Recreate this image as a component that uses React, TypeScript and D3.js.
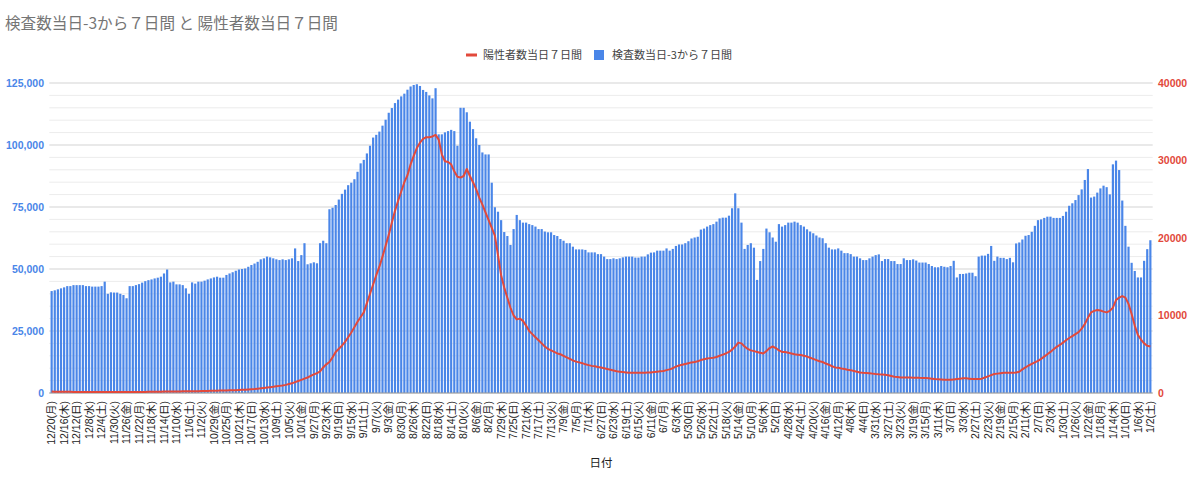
import React from 'react';
import * as d3 from 'd3';

const title = '検査数当日-3から７日間 と 陽性者数当日７日間';
const seriesLineName = '陽性者数当日７日間';
const seriesBarName = '検査数当日-3から７日間';
const xAxisTitle = '日付';

const tickLabels = [
  '12/20(月)', '12/16(木)', '12/12(日)', '12/8(水)', '12/4(土)', '11/30(火)', '11/26(金)',
  '11/22(月)', '11/18(木)', '11/14(日)', '11/10(水)', '11/6(土)', '11/2(火)', '10/29(金)',
  '10/25(月)', '10/21(木)', '10/17(日)', '10/13(水)', '10/9(土)', '10/5(火)', '10/1(金)',
  '9/27(月)', '9/23(木)', '9/19(日)', '9/15(水)', '9/11(土)', '9/7(火)', '9/3(金)',
  '8/30(月)', '8/26(木)', '8/22(日)', '8/18(水)', '8/14(土)', '8/10(火)', '8/6(金)',
  '8/2(月)', '7/29(木)', '7/25(日)', '7/21(水)', '7/17(土)', '7/13(火)', '7/9(金)',
  '7/5(月)', '7/1(木)', '6/27(日)', '6/23(水)', '6/19(土)', '6/15(火)', '6/11(金)',
  '6/7(月)', '6/3(木)', '5/30(日)', '5/26(水)', '5/22(土)', '5/18(火)', '5/14(金)',
  '5/10(月)', '5/6(木)', '5/2(日)', '4/28(水)', '4/24(土)', '4/20(火)', '4/16(金)',
  '4/12(月)', '4/8(木)', '4/4(日)', '3/31(水)', '3/27(土)', '3/23(火)', '3/19(金)',
  '3/15(月)', '3/11(木)', '3/7(日)', '3/3(水)', '2/27(土)', '2/23(火)', '2/19(金)',
  '2/15(月)', '2/11(木)', '2/7(日)', '2/3(水)', '1/30(土)', '1/26(火)', '1/22(金)',
  '1/18(月)', '1/14(木)', '1/10(日)', '1/6(水)', '1/2(土)',
];
const tickEvery = 4;

// 検査数当日-3から７日間 (daily, 12/20 -> 1/2)
const tests = [
  41100, 41400, 41800, 42200, 42600, 43100, 43100, 43500, 43500, 43500,
  43500, 43100, 43100, 42900, 42900, 42900, 43100, 44900, 40000, 40600,
  40500, 40500, 40000, 39500, 38200, 43100, 43100, 43500, 43900, 44500,
  45100, 45500, 45800, 46200, 46500, 46900, 48200, 49800, 44600, 44900,
  43800, 43800, 43500, 42200, 40000, 44600, 44100, 44900, 44900, 45300,
  45800, 46200, 46600, 46900, 46500, 46500, 47600, 48200, 48700, 49300,
  49800, 50000, 50200, 50900, 51600, 52200, 52900, 53900, 54300, 55000,
  54700, 54300, 53900, 53600, 53900, 53600, 53900, 54300, 58300, 53200,
  55600, 60400, 51900, 52300, 52700, 52300, 60400, 61400, 60400, 74100,
  74700, 75800, 78000, 80300, 82000, 83800, 84800, 86200, 89200, 92600,
  94000, 96600, 99700, 103000, 104100, 105400, 107800, 110200, 113000, 114900,
  116900, 118300, 119600, 120700, 122300, 123600, 124200, 124500, 123800, 122200,
  121400, 120000, 118800, 122900, 104300, 104300, 105100, 105600, 106100, 105600,
  99700, 115000, 115000, 113200, 109400, 106400, 102700, 100000, 97000, 96200,
  96200, 84800, 74900, 73100, 69700, 64900, 63300, 59700, 66100, 71800,
  69700, 68700, 68700, 68100, 67700, 67100, 66100, 66100, 65100, 64800,
  64800, 63700, 63300, 62100, 61400, 60400, 60400, 59000, 57900, 57900,
  57900, 57700, 56700, 56700, 56700, 56000, 56000, 55000, 54000, 54000,
  54300, 54000, 54300, 54700, 55000, 55000, 55000, 54600, 54600, 55000,
  55000, 55900, 56600, 56700, 57400, 57400, 57400, 58300, 57400, 58100,
  59300, 59900, 59900, 60400, 61200, 62300, 62700, 63000, 65900, 66300,
  67100, 67700, 68100, 69100, 70400, 70700, 70700, 71500, 74500, 80500,
  74500, 68700, 58100, 59700, 60400, 58600, 45600, 53200, 58100, 66300,
  64800, 62700, 61000, 68100, 67100, 67700, 68700, 68700, 69100, 68700,
  67700, 67100, 66000, 65100, 64400, 63500, 62700, 62400, 60400, 58600,
  57900, 57900, 58300, 57400, 56400, 56400, 56000, 55000, 55000, 54300,
  53600, 53600, 54300, 55000, 55600, 55900, 53200, 54000, 54000, 53200,
  53200, 52000, 52000, 54300, 53600, 53600, 53900, 53400, 52600, 52600,
  52600, 52000, 51200, 50700, 50700, 51200, 50900, 50700, 51200, 53300,
  46600, 48000, 48000, 48200, 48500, 48500, 47100, 55000, 55400, 55400,
  56100, 59300, 53300, 55000, 54500, 54500, 54000, 54500, 52700, 60300,
  60700, 61900, 63400, 63700, 65000, 67400, 69700, 70000, 70600, 71100,
  71100, 70600, 70600, 70600, 71400, 73100, 75500, 76500, 77800, 79800,
  82100, 85900, 90300, 78800, 79200, 80800, 82500, 83600, 83000, 80100,
  92200, 93700, 89900, 77600, 67400, 59000, 52500, 49200, 46600, 46600,
  53300, 58000, 61600,
];

// 陽性者数当日７日間 (daily, 12/20 -> 1/2)
const positives = [
  180, 175, 170, 165, 160, 155, 150, 145, 140, 140,
  135, 135, 130, 130, 130, 125, 125, 125, 125, 125,
  125, 125, 125, 130, 130, 130, 135, 135, 140, 140,
  145, 150, 155, 160, 165, 170, 180, 190, 200, 200,
  200, 205, 210, 215, 220, 225, 230, 240, 250, 260,
  270, 280, 290, 300, 310, 320, 330, 340, 350, 370,
  390, 410, 430, 460, 490, 520, 560, 600, 650, 700,
  750, 800, 860, 920, 980, 1050, 1150, 1250, 1400, 1550,
  1700, 1850, 2000, 2200, 2400, 2550, 2800, 3300, 3700, 4000,
  4600, 5300, 5700, 6100, 6600, 7200, 7800, 8500, 9200, 9800,
  10400, 11600, 12800, 14000, 15200, 16300, 17600, 19000, 20400, 22000,
  23500, 24800, 26000, 27200, 28100, 29500, 30600, 31600, 32300, 32800,
  33000, 33000, 33100, 33300, 32700, 30800, 29900, 29800, 29500, 28600,
  27900, 27800, 28000, 28900, 28000, 27200, 26300, 25200, 24300, 23300,
  22300, 21300, 20300, 17800, 15200, 13600, 12300, 11000, 10000, 9500,
  9600, 9300, 8700, 8000, 7600, 7200, 6800, 6400, 6000, 5700,
  5500, 5300, 5100, 5000, 4800, 4600, 4400, 4200, 4050, 3950,
  3850, 3700, 3600, 3500, 3450, 3350, 3300, 3200, 3100, 3000,
  2900, 2800, 2750, 2700, 2650, 2600, 2600, 2600, 2600, 2600,
  2600, 2650, 2650, 2700, 2750, 2800, 2850, 2950, 3050, 3200,
  3400, 3550, 3650, 3750, 3850, 3950, 4000, 4100, 4250, 4350,
  4450, 4500, 4550, 4650, 4800, 4950, 5100, 5300, 5600, 6000,
  6500, 6400, 6000, 5700, 5500, 5400, 5300, 5200, 5100, 5400,
  5800, 6000, 5800, 5500, 5300, 5300, 5200, 5100, 5000, 4950,
  4900, 4800, 4700, 4550, 4400, 4250, 4100, 4000, 3800, 3650,
  3450, 3300, 3250, 3150, 3100, 3000, 2950, 2850, 2750, 2650,
  2600, 2580, 2550, 2500, 2450, 2420, 2400, 2350, 2300, 2200,
  2100, 2050, 2000, 2000, 2000, 2000, 1980, 1980, 1960, 1950,
  1930, 1900, 1850, 1800, 1780, 1750, 1700, 1700, 1700, 1750,
  1800, 1850, 1900, 1900, 1850, 1800, 1800, 1800, 1850, 2000,
  2150, 2300, 2450, 2500, 2550, 2600, 2600, 2600, 2600, 2650,
  2750, 3050, 3300, 3550, 3750, 3950, 4150, 4400, 4700, 5000,
  5300, 5650, 5950, 6200, 6500, 6800, 7100, 7350, 7600, 7850,
  8300, 8900, 9700, 10400, 10600, 10700, 10650, 10500, 10400, 10600,
  11000, 12000, 12300, 12500, 12300, 11500, 10200, 8700, 7500, 6900,
  6400, 6100, 6000,
];

const leftMax = 125000;
const leftStep = 25000;
const minorStep = 5000;
const rightMax = 40000;
const rightStep = 10000;

const BLUE = '#4a86e8';
const RED = '#e2493b';
const FONT = '"Liberation Sans", Arial, "Noto Sans CJK JP", sans-serif';
const CJK = '"Noto Sans CJK JP", "Liberation Sans", sans-serif';

export default function App() {
  const W = 1200, H = 486;
  const plot = { left: 49.3, right: 1152.7, top: 83, bottom: 393 };
  const idx = d3.range(tests.length);
  const x = d3.scaleBand<number>().domain(idx).range([plot.left, plot.right]).paddingInner(0.3).paddingOuter(0.4);
  const bw = x.bandwidth();
  const cx = (i: number) => (x(i) as number) + bw / 2;
  const yL = d3.scaleLinear().domain([0, leftMax]).range([plot.bottom, plot.top]);
  const yR = d3.scaleLinear().domain([0, rightMax]).range([plot.bottom, plot.top]);
  const minor = d3.range(0, leftMax + 1, minorStep).filter((v) => v % leftStep !== 0);
  const major = d3.range(0, leftMax + 1, leftStep);
  const rTicks = d3.range(0, rightMax + 1, rightStep);
  const fmt = d3.format(',');
  const linePath = d3.line<number>().x((_, i) => cx(i)).y((d) => yR(d))(positives) || '';

  return (
    <svg width={W} height={H} viewBox={`0 0 ${W} ${H}`}
      style={{ position: 'absolute', left: 0, top: 0, display: 'block', background: '#fff' }}>
      <rect x={0} y={0} width={W} height={H} fill="#fff" />
      <text x={5} y={29} fontSize={15.6} fill="#757575" fontFamily={CJK}>{title}</text>

      {/* legend */}
      <g fontFamily={CJK} fontSize={11} fill="#444">
        <line x1={466} x2={477} y1={55} y2={55} stroke={RED} strokeWidth={3} />
        <text x={483} y={59}>{seriesLineName}</text>
        <rect x={594} y={50} width={10} height={10} fill={BLUE} />
        <text x={612} y={59}>{seriesBarName}</text>
      </g>

      {/* grid */}
      {minor.map((v) => (
        <line key={'m' + v} x1={plot.left} x2={plot.right} y1={yL(v)} y2={yL(v)} stroke="#ececec" strokeWidth={1} />
      ))}
      {major.map((v) => (
        <line key={'M' + v} x1={plot.left} x2={plot.right} y1={yL(v)} y2={yL(v)} stroke="#d3d3d3" strokeWidth={1} />
      ))}

      {/* bars */}
      {tests.map((v, i) => (
        <rect key={'b' + i} x={x(i)} y={yL(v)} width={bw} height={plot.bottom - yL(v)} fill={BLUE} />
      ))}

      <line x1={plot.left} x2={plot.right} y1={plot.bottom} y2={plot.bottom} stroke="#9e9e9e" strokeWidth={1} />

      {/* line */}
      <path d={linePath} fill="none" stroke={RED} strokeWidth={2} strokeLinejoin="round" />

      {/* left axis */}
      <g fontFamily={FONT} fontSize={10.5} fontWeight="bold" fill={BLUE} textAnchor="end">
        {major.map((v) => (
          <text key={'l' + v} x={44} y={yL(v)} dy="0.35em">{fmt(v)}</text>
        ))}
      </g>
      {/* right axis */}
      <g fontFamily={FONT} fontSize={10.5} fontWeight="bold" fill={RED} textAnchor="start">
        {rTicks.map((v) => (
          <text key={'r' + v} x={1158} y={yR(v)} dy="0.35em">{String(v)}</text>
        ))}
      </g>

      {/* x labels */}
      <g fontFamily={FONT} fontSize={10.5} fill="#222" textAnchor="end">
        {tickLabels.map((t, k) => {
          const i = k * tickEvery;
          return (
            <text key={'x' + k} transform={`translate(${cx(i)},${401}) rotate(-90)`} dy="0.35em">{t}</text>
          );
        })}
      </g>
      <text x={601} y={467} textAnchor="middle" fontFamily={CJK} fontSize={11.5} fill="#222">{xAxisTitle}</text>
    </svg>
  );
}
